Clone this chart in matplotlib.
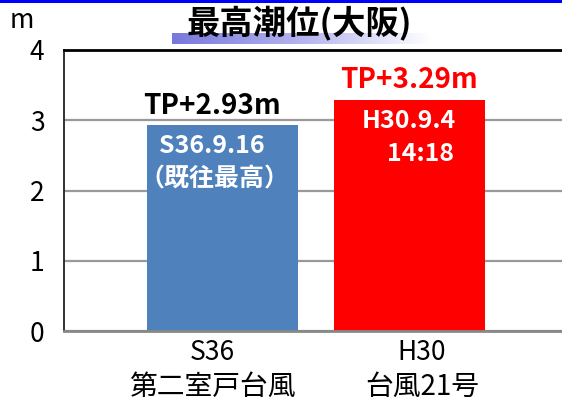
import numpy as np
import matplotlib
matplotlib.use("Agg")
import matplotlib.pyplot as plt
import matplotlib.transforms as mtransforms
from matplotlib.colors import LinearSegmentedColormap

plt.rcParams['font.family'] = ['Noto Sans CJK JP', 'DejaVu Sans']

eras = ["S36", "H30"]
storms = ["第二室戸台風", "台風21号"]
values = [2.93, 3.29]
bar_colors = ["#4F81BD", "#FF0000"]
value_labels = ["TP+2.93m", "TP+3.29m"]
value_colors = ["black", "#FF0000"]
inner_line1 = ["S36.9.16", "H30.9.4"]
inner_line2 = ["（既往最高）", "14:18"]
yticks = [0, 1, 2, 3, 4]

W, H = 562, 403
fig = plt.figure(figsize=(W / 100, H / 100), dpi=100)

# plot area, runs off the right edge like the slide
ax = fig.add_axes([64 / W, (H - 331) / H, 1 - 64 / W, (331 - 50) / H])
x = np.arange(len(values))
ax.bar(x, values, width=0.81, color=bar_colors, zorder=2)
ax.set_xlim(-0.85, 1.82)
ax.set_ylim(0, 4)
ax.set_yticks(yticks)
ax.set_yticklabels([str(t) for t in yticks], fontsize=19)
label_x = x + np.array([-0.055, 0.07])
ax.set_xticks(label_x)
ax.set_xticklabels(eras, fontsize=19)
ax.tick_params(length=0, pad=14)
ax.tick_params(axis="x", pad=6)
ax.yaxis.grid(True, color="#999999", lw=1.6, zorder=0)
ax.set_axisbelow(True)
ax.spines["right"].set_visible(False)
ax.spines["top"].set_color("black")
ax.spines["top"].set_linewidth(2)
ax.spines["left"].set_color("#222222")
ax.spines["left"].set_linewidth(1.3)
ax.spines["bottom"].set_color("#888888")
ax.spines["bottom"].set_linewidth(2)

# second line of category labels (storm names)
trans = mtransforms.blended_transform_factory(ax.transData, fig.transFigure)
for xi, s in zip(label_x, storms):
    ax.text(xi, 1 - 387 / H, s, transform=trans, ha="center", va="center",
            fontsize=20, clip_on=False)

# labels above the bars
label_dx = [-7.5, 0]
for i, (v, t, c) in enumerate(zip(values, value_labels, value_colors)):
    ax.annotate(t, xy=(x[i], v), xytext=(label_dx[i], 4), textcoords="offset points",
                ha="center", va="bottom", fontsize=20, fontweight="bold", color=c)

# white text inside the bars
dx1 = [-8, 0]
dx2 = [-6, 8]
for i, v in enumerate(values):
    ax.annotate(inner_line1[i], xy=(x[i], v), xytext=(dx1[i], -15),
                textcoords="offset points", ha="center", va="center",
                fontsize=18, fontweight="bold", color="white")
    ax.annotate(inner_line2[i], xy=(x[i], v), xytext=(dx2[i], -39),
                textcoords="offset points", ha="center", va="center",
                fontsize=18, fontweight="bold", color="white")

# unit
fig.text(22 / W, 1 - 20 / H, "m", ha="center", va="center", fontsize=19)

# blue band at top of slide
fig.add_artist(plt.Rectangle((0, 1 - 3 / H), 1, 3 / H, transform=fig.transFigure,
                             color="#0000FF", lw=0))

# gradient underline below title
gax = fig.add_axes([172 / W, 1 - 44 / H, (430 - 172) / W, 11 / H])
cmap = LinearSegmentedColormap.from_list("fade", ["#7878dc", "#b4b4ee", "#ffffff"])
grad = np.linspace(0, 1, 256)[None, :]
gax.imshow(grad, aspect="auto", cmap=cmap)
gax.axis("off")

fig.text(299 / W, 1 - 23 / H, "最高潮位(大阪)", ha="center", va="center",
         fontsize=24, fontweight="bold", color="black")

fig.savefig("out.png", dpi=100)
